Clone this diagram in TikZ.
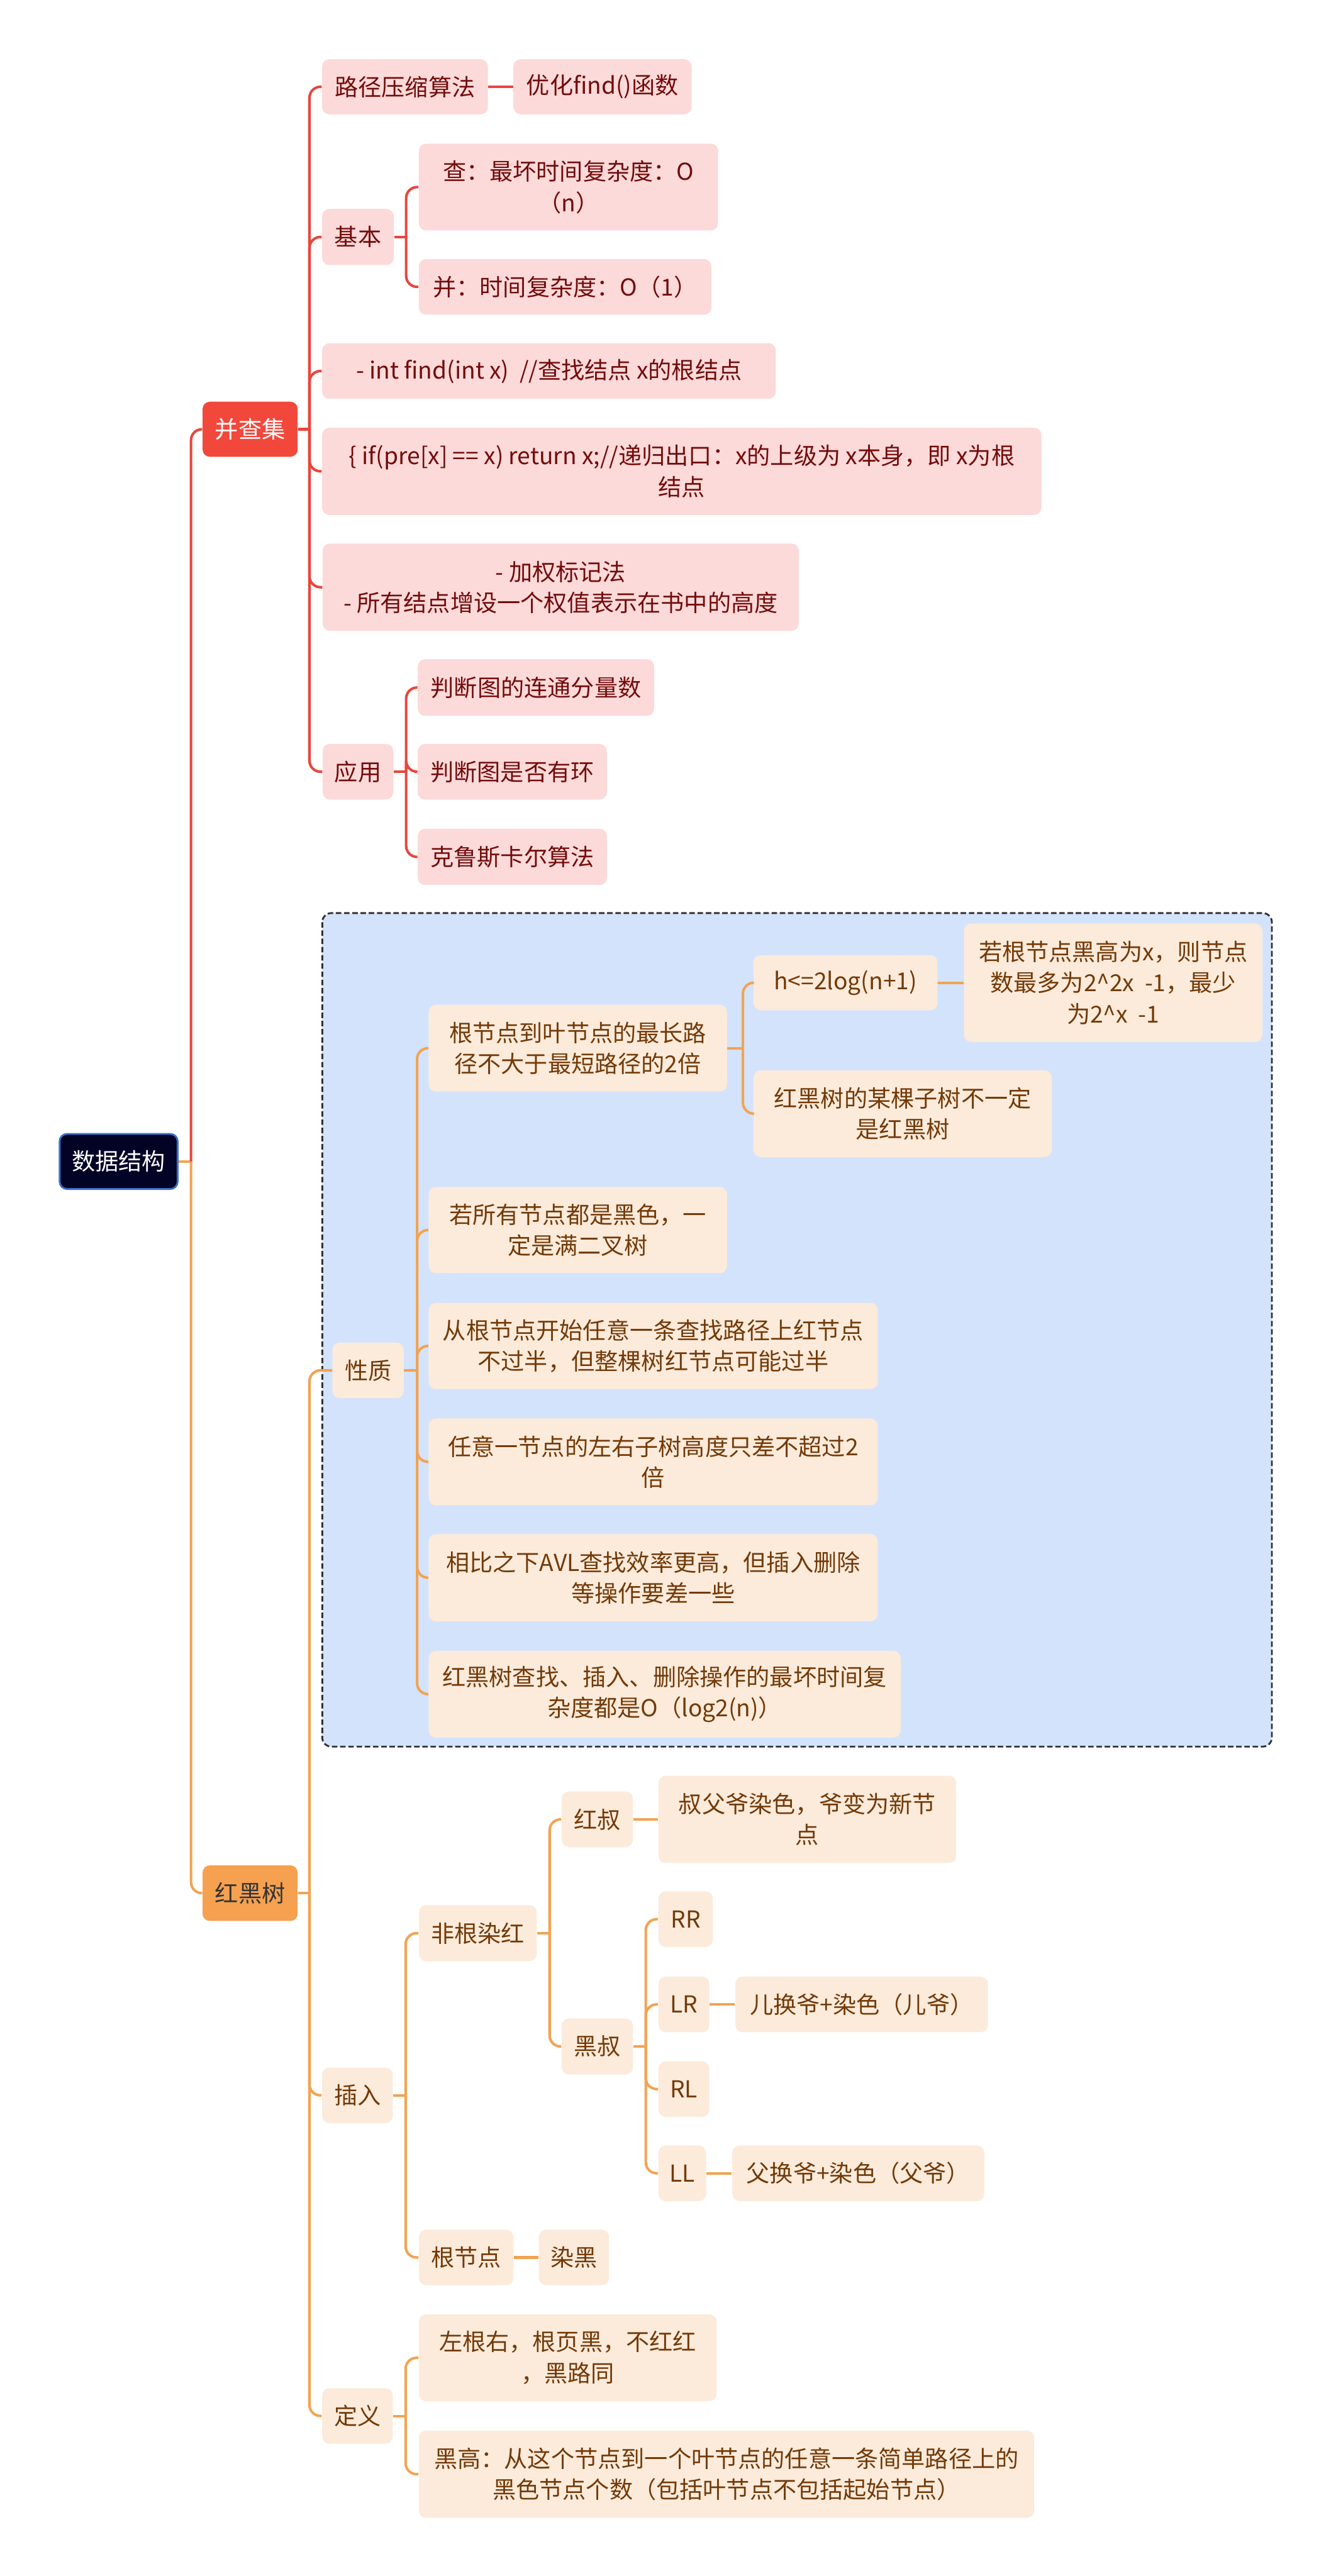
\documentclass[tikz,border=0pt]{standalone}
\usepackage{fontspec}
\setmainfont{Noto Sans CJK SC}
\usepackage{xcolor}
\usepackage{tikz}

\definecolor{rmain}{RGB}{242,72,60}
\definecolor{rline}{RGB}{232,70,60}
\definecolor{rfill}{RGB}{252,218,217}
\definecolor{rtext}{RGB}{115,12,12}
\definecolor{omain}{RGB}{245,161,80}
\definecolor{oline}{RGB}{242,163,82}
\definecolor{ofill}{RGB}{252,235,219}
\definecolor{otext}{RGB}{115,58,8}
\definecolor{rootfill}{RGB}{3,3,38}
\definecolor{rootedge}{RGB}{60,110,200}
\definecolor{zonefill}{RGB}{212,227,252}
\definecolor{zoneedge}{RGB}{50,50,55}

\begin{document}
\begin{tikzpicture}[every node/.style={font=\fontsize{12.8pt}{17pt}\selectfont,align=center,inner sep=0pt,rounded corners=4pt,anchor=west},
	rbox/.style={fill=rfill,text=rtext},
	obox/.style={fill=ofill,text=otext},
	rl/.style={draw=rline,line width=1.4pt},
	ol/.style={draw=oline,line width=1.4pt},
	rc/.style={rounded corners=6pt}]
		\useasboundingbox (0,0) rectangle (25.60,-49.57);
		\draw[zoneedge,fill=zonefill,line width=1pt,dash pattern=on 3pt off 1.5pt,rounded corners=5pt] (6.20,-17.57) rectangle (24.47,-33.61);
		\node[draw=rootedge,line width=1pt,fill=rootfill,text=white,minimum width=2.27cm,minimum height=1.06cm] (root) at (1.13,-22.35) {数据结构};
	% 并查集
		\node[fill=rmain,text=white,minimum width=1.83cm,minimum height=1.06cm] (bcj) at (3.89,-8.26) {并查集};
		\node[rbox,minimum width=3.19cm,minimum height=1.06cm] (ljys) at (6.19,-1.67) {路径压缩算法};
		\node[rbox,minimum width=3.43cm,minimum height=1.06cm] (yhf) at (9.87,-1.67) {优化find()函数};
		\node[rbox,minimum width=1.38cm,minimum height=1.08cm] (jb) at (6.19,-4.56) {基本};
		\node[rbox,minimum width=5.76cm,minimum height=1.67cm] (cha) at (8.05,-3.60) {查：最坏时间复杂度：O\\（n）};
		\node[rbox,minimum width=5.63cm,minimum height=1.07cm] (bing) at (8.05,-5.52) {并：时间复杂度：O（1）};
		\node[rbox,minimum width=8.73cm,minimum height=1.07cm] (findx) at (6.19,-7.14) {- int find(int x)\ \ //查找结点 x的根结点};
		\node[rbox,minimum width=13.84cm,minimum height=1.68cm] (ifpre) at (6.19,-9.07) {\{ if(pre[x] == x) return x;//递归出口：x的上级为 x本身，即 x为根\\结点};
		\node[rbox,minimum width=9.16cm,minimum height=1.68cm] (jq) at (6.20,-11.30) {- 加权标记法\\- 所有结点增设一个权值表示在书中的高度};
		\node[rbox,minimum width=1.36cm,minimum height=1.07cm] (yy) at (6.20,-14.85) {应用};
		\node[rbox,minimum width=4.55cm,minimum height=1.09cm] (ltfl) at (8.03,-13.23) {判断图的连通分量数};
		\node[rbox,minimum width=3.64cm,minimum height=1.07cm] (yhuan) at (8.03,-14.85) {判断图是否有环};
		\node[rbox,minimum width=3.64cm,minimum height=1.08cm] (kls) at (8.03,-16.49) {克鲁斯卡尔算法};
	% 红黑树
		\node[fill=omain,text=black!80,minimum width=1.83cm,minimum height=1.07cm] (hhs) at (3.89,-36.43) {红黑树};
		\node[obox,minimum width=1.37cm,minimum height=1.07cm] (xz) at (6.39,-26.37) {性质};
		\node[obox,minimum width=5.74cm,minimum height=1.67cm] (zcl) at (8.24,-20.17) {根节点到叶节点的最长路\\径不大于最短路径的2倍};
		\node[obox,minimum width=3.54cm,minimum height=1.06cm] (hlog) at (14.49,-18.91) {h<=2log(n+1)};
		\node[obox,minimum width=5.74cm,minimum height=2.28cm] (hgx) at (18.54,-18.91) {若根节点黑高为x，则节点\\数最多为2\textasciicircum 2x\ \ -1，最少\\为2\textasciicircum x\ \ -1};
		\node[obox,minimum width=5.74cm,minimum height=1.67cm] (zsh) at (14.49,-21.43) {红黑树的某棵子树不一定\\是红黑树};
		\node[obox,minimum width=5.74cm,minimum height=1.66cm] (qhs) at (8.24,-23.67) {若所有节点都是黑色，一\\定是满二叉树};
		\node[obox,minimum width=8.64cm,minimum height=1.66cm] (bgb) at (8.24,-25.90) {从根节点开始任意一条查找路径上红节点\\不过半，但整棵树红节点可能过半};
		\node[obox,minimum width=8.64cm,minimum height=1.67cm] (gdc) at (8.24,-28.13) {任意一节点的左右子树高度只差不超过2\\倍};
		\node[obox,minimum width=8.64cm,minimum height=1.68cm] (avl) at (8.24,-30.36) {相比之下AVL查找效率更高，但插入删除\\等操作要差一些};
		\node[obox,minimum width=9.08cm,minimum height=1.67cm] (zh) at (8.24,-32.60) {红黑树查找、插入、删除操作的最坏时间复\\杂度都是O（log2(n)）};
		\node[obox,minimum width=1.36cm,minimum height=1.07cm] (cr) at (6.19,-40.32) {插入};
		\node[obox,minimum width=2.27cm,minimum height=1.08cm] (fgrh) at (8.05,-37.20) {非根染红};
		\node[obox,minimum width=1.37cm,minimum height=1.07cm] (hsu) at (10.80,-35.01) {红叔};
		\node[obox,minimum width=5.73cm,minimum height=1.68cm] (sfy) at (12.66,-35.01) {叔父爷染色，爷变为新节\\点};
		\node[obox,minimum width=1.37cm,minimum height=1.08cm] (hshu) at (10.80,-39.38) {黑叔};
		\node[obox,minimum width=1.05cm,minimum height=1.07cm] (rr) at (12.66,-36.93) {RR};
		\node[obox,minimum width=0.98cm,minimum height=1.07cm] (lr) at (12.66,-38.57) {LR};
		\node[obox,minimum width=4.86cm,minimum height=1.07cm] (ehy) at (14.14,-38.57) {儿换爷+染色（儿爷）};
		\node[obox,minimum width=0.98cm,minimum height=1.07cm] (rl) at (12.66,-40.20) {RL};
		\node[obox,minimum width=0.92cm,minimum height=1.07cm] (ll) at (12.66,-41.82) {LL};
		\node[obox,minimum width=4.85cm,minimum height=1.07cm] (fhy) at (14.08,-41.82) {父换爷+染色（父爷）};
		\node[obox,minimum width=1.82cm,minimum height=1.07cm] (gjd) at (8.05,-43.44) {根节点};
		\node[obox,minimum width=1.35cm,minimum height=1.07cm] (rh) at (10.36,-43.44) {染黑};
		\node[obox,minimum width=1.36cm,minimum height=1.07cm] (dy) at (6.19,-46.49) {定义};
		\node[obox,minimum width=5.73cm,minimum height=1.67cm] (zgy) at (8.05,-45.37) {左根右，根页黑，不红红\\，黑路同};
		\node[obox,minimum width=11.84cm,minimum height=1.68cm] (hgao) at (8.05,-47.61) {黑高：从这个节点到一个叶节点的任意一条简单路径上的\\黑色节点个数（包括叶节点不包括起始节点）};
	% connectors
		\draw[ol] (root.east) -- ++(0.24,0) coordinate (t0);
		\draw[rl,rc] (t0) |- (bcj.west);
		\draw[ol,rc] (t0) |- (hhs.west);
		\draw[rl] (bcj.east) -- ++(0.22,0) coordinate (t1);
		\draw[rl,rc] (t1) |- (ljys.west);
		\draw[rl,rc] (t1) |- (jb.west);
		\draw[rl,rc] (t1) |- (findx.west);
		\draw[rl,rc] (t1) |- (ifpre.west);
		\draw[rl,rc] (t1) |- (jq.west);
		\draw[rl,rc] (t1) |- (yy.west);
		\draw[rl] (ljys) -- (yhf);
		\draw[rl] (jb.east) -- ++(0.23,0) coordinate (t2);
		\draw[rl,rc] (t2) |- (cha.west);
		\draw[rl,rc] (t2) |- (bing.west);
		\draw[rl] (yy.east) -- ++(0.24,0) coordinate (t3);
		\draw[rl,rc] (t3) |- (ltfl.west);
		\draw[rl,rc] (t3) |- (yhuan.west);
		\draw[rl,rc] (t3) |- (kls.west);
		\draw[ol] (hhs.east) -- ++(0.22,0) coordinate (t4);
		\draw[ol,rc] (t4) |- (xz.west);
		\draw[ol,rc] (t4) |- (cr.west);
		\draw[ol,rc] (t4) |- (dy.west);
		\draw[ol] (xz.east) -- ++(0.25,0) coordinate (t5);
		\draw[ol,rc] (t5) |- (zcl.west);
		\draw[ol,rc] (t5) |- (qhs.west);
		\draw[ol,rc] (t5) |- (bgb.west);
		\draw[ol,rc] (t5) |- (gdc.west);
		\draw[ol,rc] (t5) |- (avl.west);
		\draw[ol,rc] (t5) |- (zh.west);
		\draw[ol] (zcl.east) -- ++(0.30,0) coordinate (t6);
		\draw[ol,rc] (t6) |- (hlog.west);
		\draw[ol,rc] (t6) |- (zsh.west);
		\draw[ol] (hlog) -- (hgx);
		\draw[ol] (cr.east) -- ++(0.24,0) coordinate (t7);
		\draw[ol,rc] (t7) |- (fgrh.west);
		\draw[ol,rc] (t7) |- (gjd.west);
		\draw[ol] (fgrh.east) -- ++(0.24,0) coordinate (t8);
		\draw[ol,rc] (t8) |- (hsu.west);
		\draw[ol,rc] (t8) |- (hshu.west);
		\draw[ol] (hsu) -- (sfy);
		\draw[ol] (hshu.east) -- ++(0.24,0) coordinate (t9);
		\draw[ol,rc] (t9) |- (rr.west);
		\draw[ol,rc] (t9) |- (lr.west);
		\draw[ol,rc] (t9) |- (rl.west);
		\draw[ol,rc] (t9) |- (ll.west);
		\draw[ol] (lr) -- (ehy);
		\draw[ol] (ll) -- (fhy);
		\draw[ol] (gjd) -- (rh);
		\draw[ol] (dy.east) -- ++(0.24,0) coordinate (t10);
		\draw[ol,rc] (t10) |- (zgy.west);
		\draw[ol,rc] (t10) |- (hgao.west);
	\end{tikzpicture}
\end{document}
